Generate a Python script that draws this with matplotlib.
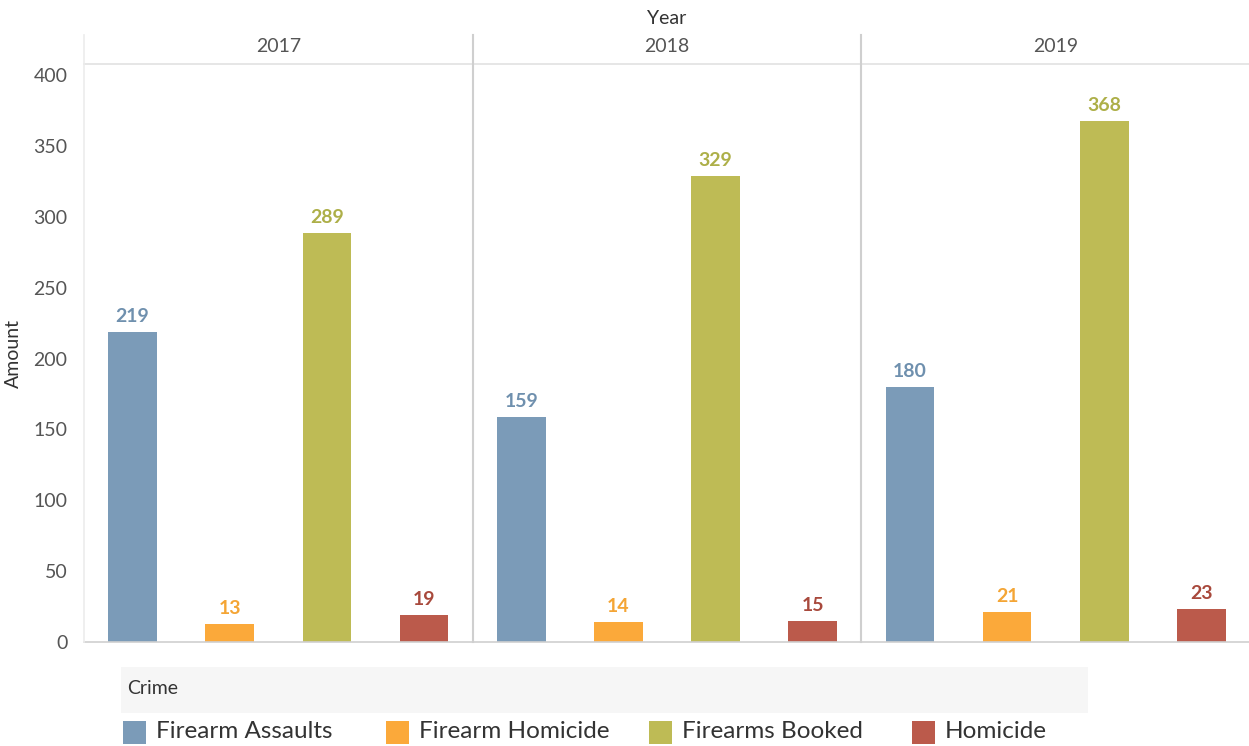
import matplotlib
matplotlib.use('Agg')
import matplotlib.pyplot as plt
from matplotlib.patches import Rectangle
from matplotlib.lines import Line2D

plt.rcParams['font.family'] = ['Lato', 'DejaVu Sans']

years = ["2017", "2018", "2019"]
crimes = ["Firearm Assaults", "Firearm Homicide", "Firearms Booked", "Homicide"]
amounts = {
    "2017": [219, 13, 289, 19],
    "2018": [159, 14, 329, 15],
    "2019": [180, 21, 368, 23],
}
bar_colors = ["#7b9bb8", "#fba93a", "#bebb55", "#bb5a4b"]
label_colors = ["#6f90ae", "#f4a535", "#adaf48", "#a8493c"]
y_ticks = [0, 50, 100, 150, 200, 250, 300, 350, 400]

W, H = 1249, 746
fig = plt.figure(figsize=(W / 100, H / 100), dpi=100)

left, right = 84, 1250
top, base = 64, 642
pw = (right - left) / len(years)

for i, yr in enumerate(years):
    ax = fig.add_axes([(left + i * pw) / W, 1 - base / H, pw / W, (base - top) / H])
    xs = range(len(crimes))
    bars = ax.bar(xs, amounts[yr], width=0.5, color=bar_colors)
    for b, val, lc in zip(bars, amounts[yr], label_colors):
        ax.annotate(str(val), (b.get_x() + b.get_width() / 2, val),
                    xytext=(0, 5), textcoords="offset points",
                    ha="center", va="bottom", fontsize=14,
                    fontweight="bold", color=lc)
    ax.set_xlim(-0.5, len(crimes) - 0.5)
    ax.set_ylim(0, 408)
    ax.set_xticks([])
    for s in ["top", "right", "left"]:
        ax.spines[s].set_visible(False)
    ax.spines["bottom"].set_color("#cfcfcf")
    ax.spines["bottom"].set_linewidth(1.2)
    if i == 0:
        ax.set_yticks(y_ticks)
        ax.tick_params(axis="y", length=0, labelsize=14, labelcolor="#555555", pad=12)
        ax.set_ylabel("Amount", fontsize=14, color="#333333", labelpad=8)
    else:
        ax.set_yticks([])
    fig.text((left + (i + 0.5) * pw) / W, 1 - 47 / H, yr, ha="center", va="center",
             fontsize=14, color="#555555")

# header and panel lines
fig.add_artist(Line2D([left / W, 1], [1 - top / H] * 2, color="#e2e2e2", lw=1.2))
fig.add_artist(Line2D([left / W] * 2, [1 - 35 / H, 1 - base / H], color="#ececec", lw=1.2))
for i in range(1, len(years)):
    x = (left + i * pw) / W
    fig.add_artist(Line2D([x, x], [1 - 35 / H, 1 - base / H], color="#cfcfcf", lw=1.5))

fig.text((left + 1.5 * pw) / W, 1 - 18 / H, "Year", ha="center", va="center",
         fontsize=14, color="#333333")

# legend
fig.add_artist(Rectangle((121 / W, 1 - 713 / H), (1088 - 121) / W, 46 / H,
                         transform=fig.transFigure, facecolor="#f6f6f6", edgecolor="none"))
fig.text(127 / W, 1 - 689 / H, "Crime", ha="left", va="center", fontsize=14, color="#333333")
step = 263
for i, (c, col) in enumerate(zip(crimes, bar_colors)):
    x0 = 123 + i * step
    fig.add_artist(Rectangle((x0 / W, 1 - 744 / H), 23 / W, 23 / H,
                             transform=fig.transFigure, facecolor=col, edgecolor="none"))
    fig.text((x0 + 33) / W, 1 - 732 / H, c, ha="left", va="center", fontsize=17.5, color="#333333")

fig.savefig("out.png", dpi=100, facecolor="white")
